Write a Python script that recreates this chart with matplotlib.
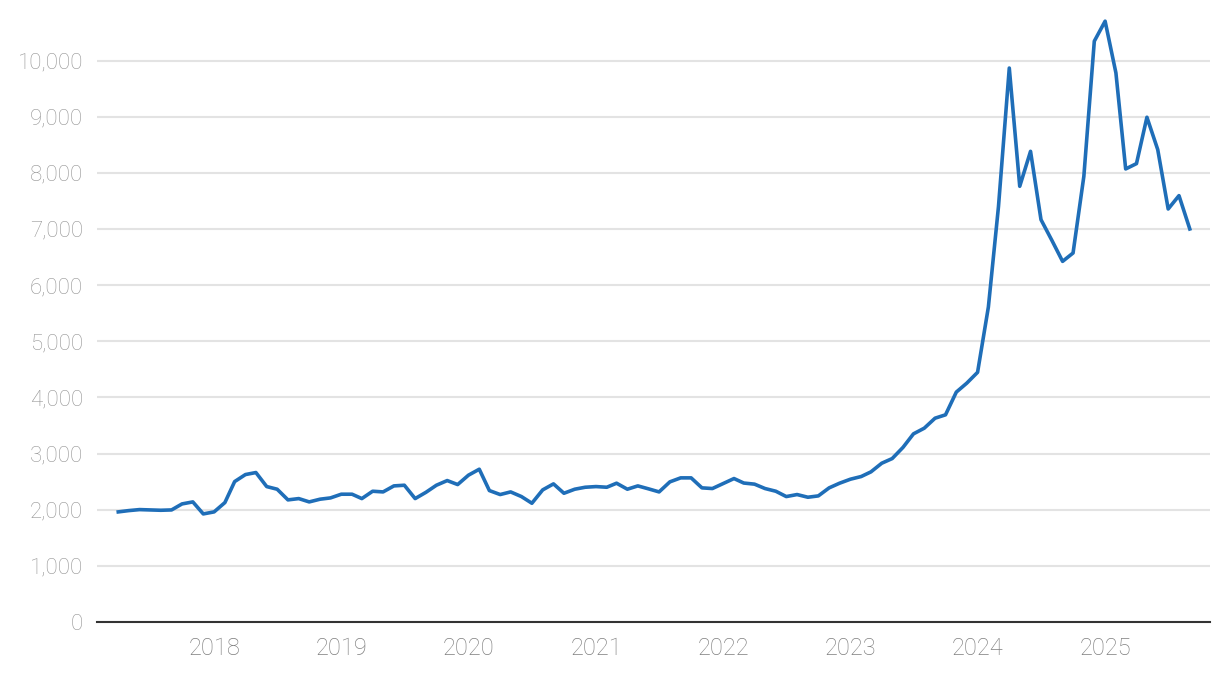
import matplotlib
matplotlib.use('Agg')
import matplotlib.pyplot as plt
import pandas as pd

# monthly values, Apr 2017 .. Sep 2025
start_month = '2017-04-01'
values = [
    1961, 1984, 2002, 1996, 1990, 1996, 2103, 2139, 1925,            # 2017
    1961, 2127, 2501, 2626, 2662, 2412, 2365, 2175, 2198, 2139, 2187, 2210,  # 2018
    2276, 2276, 2198, 2329, 2317, 2424, 2436, 2198, 2310, 2436, 2519, 2448,  # 2019
    2615, 2721, 2341, 2270, 2317, 2234, 2115, 2353, 2460, 2293, 2365, 2400,  # 2020
    2412, 2400, 2472, 2365, 2424, 2371, 2317, 2496, 2567, 2567, 2389, 2377,  # 2021
    2466, 2555, 2475, 2455, 2377, 2329, 2234, 2270, 2222, 2246, 2389, 2472,  # 2022
    2543, 2591, 2674, 2828, 2911, 3110, 3351, 3452, 3630, 3690, 4095, 4254,  # 2023
    4447, 5610, 7400, 9866, 7760, 8383, 7166, 6800, 6423, 6572, 7938, 10345,  # 2024
    10701, 9780, 8069, 8164, 8990, 8414, 7356, 7594, 7000,               # 2025
]
dates = pd.date_range(start_month, periods=len(values), freq='MS')

y_ticks = list(range(0, 10001, 1000))
x_years = list(range(2018, 2026))

fig = plt.figure(figsize=(12.2, 6.74), dpi=100)
ax = fig.add_axes([97 / 1220, 52 / 674, (1210 - 97) / 1220, 612 / 674])

ax.plot(dates, values, color='#1f6eb8', lw=2.6, zorder=3)

ax.set_ylim(0, 10900)
ax.set_xlim(pd.Timestamp('2017-01-30'), pd.Timestamp('2025-10-29'))

ax.set_yticks(y_ticks)
ax.set_yticklabels([f'{v:,}' for v in y_ticks])
ax.set_xticks([pd.Timestamp(f'{y}-01-01') for y in x_years])
ax.set_xticklabels([str(y) for y in x_years])

ax.grid(axis='y', color='#e3e3e3', lw=1.5, zorder=0)
ax.set_axisbelow(True)
for s in ['top', 'right', 'left']:
    ax.spines[s].set_visible(False)
ax.spines['bottom'].set_color('#333333')
ax.spines['bottom'].set_linewidth(1.5)
ax.spines['bottom'].set_zorder(4)

ax.tick_params(axis='y', length=0, pad=10, labelsize=16, labelcolor='#959595')
ax.tick_params(axis='x', length=0, pad=11, labelsize=17, labelcolor='#7e7e7e')
for lab in ax.get_xticklabels() + ax.get_yticklabels():
    lab.set_family(['Roboto', 'DejaVu Sans'])
    lab.set_fontweight('light')

plt.savefig('out.png', dpi=100)
